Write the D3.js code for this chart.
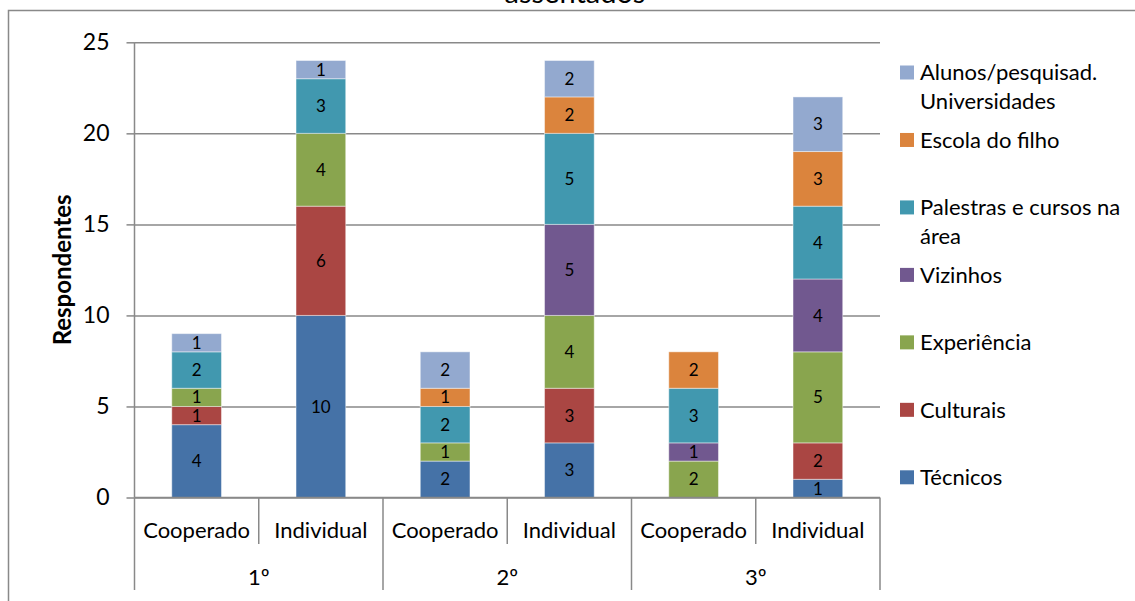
<!DOCTYPE html>
<html>
<head>
<meta charset="utf-8">
<script src="https://cdn.jsdelivr.net/npm/d3@7"></script>
<style>
  html, body { margin: 0; padding: 0; background: #fff; }
  svg { display: block; font-family: Lato, "Liberation Sans", sans-serif; }
</style>
</head>
<body>
<svg id="chart" width="1135" height="601"></svg>
<script>
// Stacked bars: sources of information, by settlement (1º–3º) and type of production
const groups = ["1º", "2º", "3º"];
const subcats = ["Cooperado", "Individual"];
const tecnicos     = [4, 10, 2, 3, 0, 1];
const culturais    = [1, 6, 0, 3, 0, 2];
const experiencia  = [1, 4, 1, 4, 2, 5];
const vizinhos     = [0, 0, 0, 5, 1, 4];
const palestras    = [2, 3, 2, 5, 3, 4];
const escola       = [0, 0, 1, 2, 2, 3];
const alunos       = [1, 1, 2, 2, 0, 3];
const seriesNames  = ["Técnicos", "Culturais", "Experiência", "Vizinhos",
                      "Palestras e cursos na área", "Escola do filho", "Alunos/pesquisad. Universidades"];
const legendLines  = [["Técnicos"], ["Culturais"], ["Experiência"], ["Vizinhos"],
                      ["Palestras e cursos na", "área"], ["Escola do filho"], ["Alunos/pesquisad.", "Universidades"]];
const colors       = ["#4572A7", "#AA4643", "#89A54E", "#71588F", "#4198AF", "#DB843D", "#93A9CF"];
const yTicks       = [0, 5, 10, 15, 20, 25];
const titleText    = "assentados";
const yTitle       = "Respondentes";

const seriesValues = [tecnicos, culturais, experiencia, vizinhos, palestras, escola, alunos];

// one row per bar
const rows = [];
groups.forEach((g, gi) => subcats.forEach((s, si) => {
  const i = gi * subcats.length + si;
  const row = { key: g + "|" + s, group: g, sub: s };
  seriesNames.forEach((n, k) => row[n] = seriesValues[k][i]);
  rows.push(row);
}));

const svg = d3.select("#chart");
const plotLeft = 134.5, plotRight = 880, plotTop = 42.3, plotBase = 497.5;
const axisGray = "#898989";

const x = d3.scaleBand().domain(rows.map(r => r.key)).range([plotLeft, plotRight]).paddingInner(0.6).paddingOuter(0.3);
const y = d3.scaleLinear().domain([0, 25]).range([plotBase, plotTop]);

// outer frame
svg.append("rect").attr("x", 8.5).attr("y", 10.5).attr("width", 1140).attr("height", 600)
  .attr("fill", "none").attr("stroke", axisGray).attr("stroke-width", 1.5);

// title (second line of a longer heading)
svg.append("text").attr("x", 575).attr("y", 3).attr("text-anchor", "middle")
  .attr("font-size", 29).attr("fill", "#000").text(titleText);

// gridlines and y ticks
const yAxis = d3.axisLeft(y).tickValues(yTicks).tickSize(8).tickPadding(17);
const gy = svg.append("g").attr("transform", `translate(${plotLeft},0)`).call(yAxis);
gy.select(".domain").remove();
gy.selectAll(".tick line").attr("stroke", axisGray).attr("stroke-width", 1.5);
gy.selectAll(".tick text").attr("font-size", 23).attr("fill", "#000").attr("font-family", "Lato");
gy.selectAll(".tick").append("line").attr("x1", 0).attr("x2", plotRight - plotLeft)
  .attr("stroke", axisGray).attr("stroke-width", 1.5);

// stacked bars
const stack = d3.stack().keys(seriesNames)(rows);
const layers = svg.append("g").selectAll("g").data(stack).join("g")
  .attr("fill", (d, i) => colors[i]);
layers.selectAll("rect").data(d => d.filter(p => p[1] > p[0])).join("rect")
  .attr("x", d => x(d.data.key))
  .attr("width", x.bandwidth())
  .attr("y", d => y(d[1]))
  .attr("height", d => y(d[0]) - y(d[1]))
  .attr("stroke", "#ffffff").attr("stroke-opacity", 0.45).attr("stroke-width", 1);

// value labels
const labels = svg.append("g");
stack.forEach(layer => {
  layer.filter(p => p[1] > p[0]).forEach(p => {
    labels.append("text")
      .attr("x", x(p.data.key) + x.bandwidth() / 2)
      .attr("y", (y(p[0]) + y(p[1])) / 2)
      .attr("dy", "0.36em").attr("text-anchor", "middle")
      .attr("font-size", 17).attr("fill", "#000")
      .text(p[1] - p[0]);
  });
});

// category axis: baseline, separators, labels
const axis = svg.append("g").attr("stroke", axisGray).attr("stroke-width", 1.5);
axis.append("line").attr("x1", plotLeft).attr("x2", plotRight).attr("y1", plotBase).attr("y2", plotBase);
axis.append("line").attr("x1", plotLeft).attr("x2", plotLeft).attr("y1", plotTop).attr("y2", plotBase);
const step = x.step();
d3.range(rows.length + 1).forEach(i => {
  const xx = plotLeft + i * step;
  const long = i % subcats.length === 0;
  axis.append("line").attr("x1", xx).attr("x2", xx).attr("y1", plotBase).attr("y2", long ? 590 : 544);
});
svg.append("g").selectAll("text").data(rows).join("text")
  .attr("x", d => x(d.key) + x.bandwidth() / 2).attr("y", 530).attr("dy", "0.36em")
  .attr("text-anchor", "middle").attr("font-size", 22).attr("fill", "#000")
  .text(d => d.sub);
svg.append("g").selectAll("text").data(groups).join("text")
  .attr("x", (d, i) => plotLeft + (i + 0.5) * subcats.length * step).attr("y", 577).attr("dy", "0.36em")
  .attr("text-anchor", "middle").attr("font-size", 22).attr("fill", "#000")
  .text(d => d);

// y-axis title
svg.append("text").attr("transform", `translate(62,${(plotTop + plotBase) / 2}) rotate(-90)`)
  .attr("dy", "0.36em").attr("text-anchor", "middle").attr("font-size", 24).attr("font-weight", "bold")
  .attr("fill", "#000").text(yTitle);

// legend (last series on top)
const ly = d3.scaleLinear().domain([0, seriesNames.length - 1]).range([477.3, 72.5]);
const legend = svg.append("g").selectAll("g").data(seriesNames).join("g")
  .attr("transform", (d, i) => `translate(900,${ly(i)})`);
legend.append("rect").attr("x", 0).attr("y", -7).attr("width", 14).attr("height", 14)
  .attr("fill", (d, i) => colors[i]);
legend.each(function(d, i) {
  const t = d3.select(this).append("text").attr("x", 20).attr("y", 0)
    .attr("font-size", 22).attr("fill", "#000");
  legendLines[i].forEach((line, j) => {
    t.append("tspan").attr("x", 20).attr("dy", j === 0 ? "0.36em" : 29).text(line);
  });
});
</script>
</body>
</html>
